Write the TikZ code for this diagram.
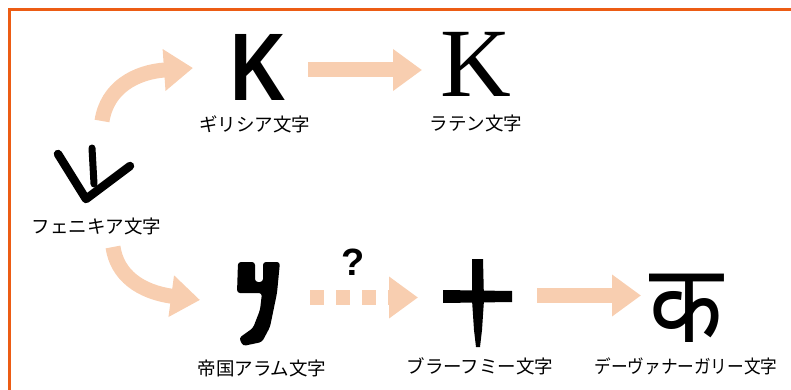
\documentclass[tikz,border=0pt]{standalone}
\usepackage{fontspec}
\newfontfamily\jp{Noto Sans CJK JP}
\newfontfamily\devfont[Script=Devanagari]{Noto Sans}
\newfontfamily\serifK{Liberation Serif}
\newfontfamily\sansK{Liberation Sans}
\usetikzlibrary{arrows.meta}
\definecolor{frameorange}{RGB}{236,92,20}
\definecolor{peach}{RGB}{248,206,176}
\begin{document}
\begin{tikzpicture}[x=1pt,y=-1pt,
  lbl/.style={font=\jp\fontsize{18.5}{20}\selectfont, inner sep=0pt},
  flow/.style={draw=peach, line width=15pt, -{Triangle[width=40pt,length=29pt]}},
  dotflow/.style={flow, dash pattern=on 14pt off 12pt},
  bigletter/.style={inner sep=0pt, anchor=base},
]
\useasboundingbox (0,0) rectangle (791,390);
\draw[frameorange, line width=3pt] (9.5,400) -- (9.5,9.5) -- (800,9.5);

% labels
\node[lbl] (phoenLbl) at (96.5,226) {フェニキア文字};
\node[lbl] (greekLbl) at (254.5,124) {ギリシア文字};
\node[lbl] (latinLbl) at (476,123) {ラテン文字};
\node[lbl] (aramLbl) at (262,368) {帝国アラム文字};
\node[lbl] (brahmiLbl) at (480,366) {ブラーフミー文字};
\node[lbl] (devaLbl) at (686,366) {\scalebox{0.9}[1]{デーヴァナーガリー文字}};

% letters
\node[bigletter, font=\sansK\bfseries\fontsize{96}{96}\selectfont] (greekK) at (258,101) {\raisebox{0pt}[\height][0pt]{\scalebox{0.8}[1]{K}}};
\node[bigletter, font=\serifK\fontsize{98}{98}\selectfont] (latinK) at (476,97) {\raisebox{0pt}[\height][0pt]{K}};
\node[bigletter, font=\devfont\fontsize{110}{110}\selectfont] (devaK) at (686,342) {\raisebox{0pt}[\height][0pt]{\scalebox{0.87}[1]{क}}};
\node[bigletter, font=\sansK\bfseries\fontsize{38}{38}\selectfont] (qmark) at (353,275) {?};

% Phoenician glyph
\draw[line width=8.5pt, line cap=round, line join=round] (58,154) -- (86,199) -- (130,166);
\draw[line width=7pt, line cap=round] (92,148) -- (94,184);

% Aramaic glyph
\fill[rounded corners=3pt] (238,262) -- (255,262) -- (255,282) -- (263,282) -- (263,262) -- (280,262)
  -- (277,293) -- (270,327) -- (262,342) -- (243,346) -- (239,338) -- (253,328) -- (260,310)
  -- (262,293) -- (237,293) -- cycle;

% Brahmi glyph
\fill (472,259) -- (483,259) -- (484,300) -- (482,330) -- (480,347) -- (476,347) -- (474,330) -- (472,300) -- cycle;
\fill (443,290) -- (512,291) -- (512,302) -- (443,303) -- cycle;

% arrows
\coordinate (a1s) at (102,121); \coordinate (a1e) at (193,68);
\coordinate (a2s) at (308,70);  \coordinate (a2e) at (422,70);
\coordinate (a3s) at (113,247); \coordinate (a3e) at (200,300);
\coordinate (a4s) at (310,297.5); \coordinate (a4e) at (418,297.5);
\coordinate (a5s) at (537,295.5); \coordinate (a5e) at (641,295.5);
\draw[flow] (a1s) .. controls (107,88) and (135,72) .. (a1e);
\draw[flow] (a2s) -- (a2e);
\draw[flow] (a3s) .. controls (117,275) and (140,292) .. (a3e);
\draw[dotflow] (a4s) -- (a4e);
\draw[flow] (a5s) -- (a5e);
\end{tikzpicture}
\end{document}
